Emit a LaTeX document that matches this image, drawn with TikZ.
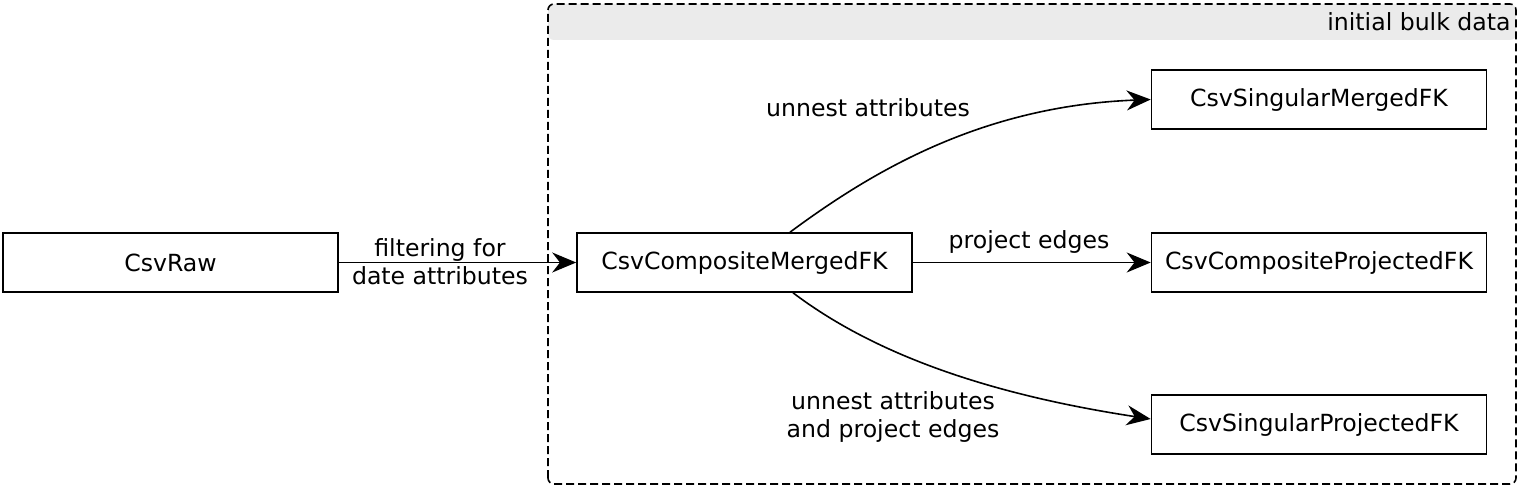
\documentclass[tikz,border=0pt]{standalone}
\usepackage{fontspec}
\setmainfont{DejaVu Sans}
\usepackage{xcolor}
\usepackage{tikz}
\usetikzlibrary{arrows.meta, positioning, calc}
\definecolor{bandgray}{RGB}{235, 235, 235}
\tikzset{
    tablenode/.style={
        draw, line width=0.8pt, minimum width=167.5pt, minimum height=29.5pt,
        inner sep=0pt, fill=white, anchor=center
    },
    edgearrow/.style={
        -{Stealth[length=12pt, width=10pt]}, line width=0.8pt
    },
    edgelabel/.style={
        align=center, inner sep=0pt
    }
}

\begin{document}
\begin{tikzpicture}[
        x=0.5pt, y=0.5pt,
        font=\fontsize{11.8}{14}\selectfont,
        % Style cho cluster
        clusterbox/.style={
            draw, dashed, dash pattern=on 4pt off 2pt, line width=0.8pt, rounded corners=3pt
        }
    ]
        \useasboundingbox (0,0) rectangle (1520,488);

        % --- 1. CLUSTER ---
        \fill[bandgray, rounded corners=3pt] (548,448) rectangle (1516,484);
        \draw[clusterbox] (548,4) rectangle (1516,484);
        \node[anchor=east, inner sep=0pt] (ctitle) at (1511,466) {initial bulk data};

        % --- 2. NODES ---
        \node[tablenode] (nraw)  at (170.5,225.5) {CsvRaw};
        \node[tablenode] (ncmfk) at (744.5,225.5) {CsvCompositeMergedFK};
        \node[tablenode] (nsmfk) at (1319,388.5)  {CsvSingularMergedFK};
        \node[tablenode] (ncpfk) at (1319,225.5)  {CsvCompositeProjectedFK};
        \node[tablenode] (nspfk) at (1319,63.5)   {CsvSingularProjectedFK};

        % --- 3. EDGES ---
        \draw[edgearrow] (nraw) -- (ncmfk);
        \draw[edgearrow] (ncmfk) -- (ncpfk);
        \draw[edgearrow] ([xshift=22.75pt]ncmfk.north) .. controls (870,315) and (980,382) .. (nsmfk.west);
        \draw[edgearrow] ([xshift=24.25pt]ncmfk.south) .. controls (870,137) and (980,95) .. ([yshift=2.75pt]nspfk.west);

        % --- 4. LABELS ---
        \node[edgelabel] (lfilter)  at (440,226) {filtering for\\date attributes};
        \node[edgelabel] (lproject) at (1029,246) {project edges};
        \node[edgelabel] (lunnest)  at (868,380) {unnest attributes};
        \node[edgelabel] (lboth)    at (893,71) {unnest attributes\\and project edges};
\end{tikzpicture}
\end{document}
